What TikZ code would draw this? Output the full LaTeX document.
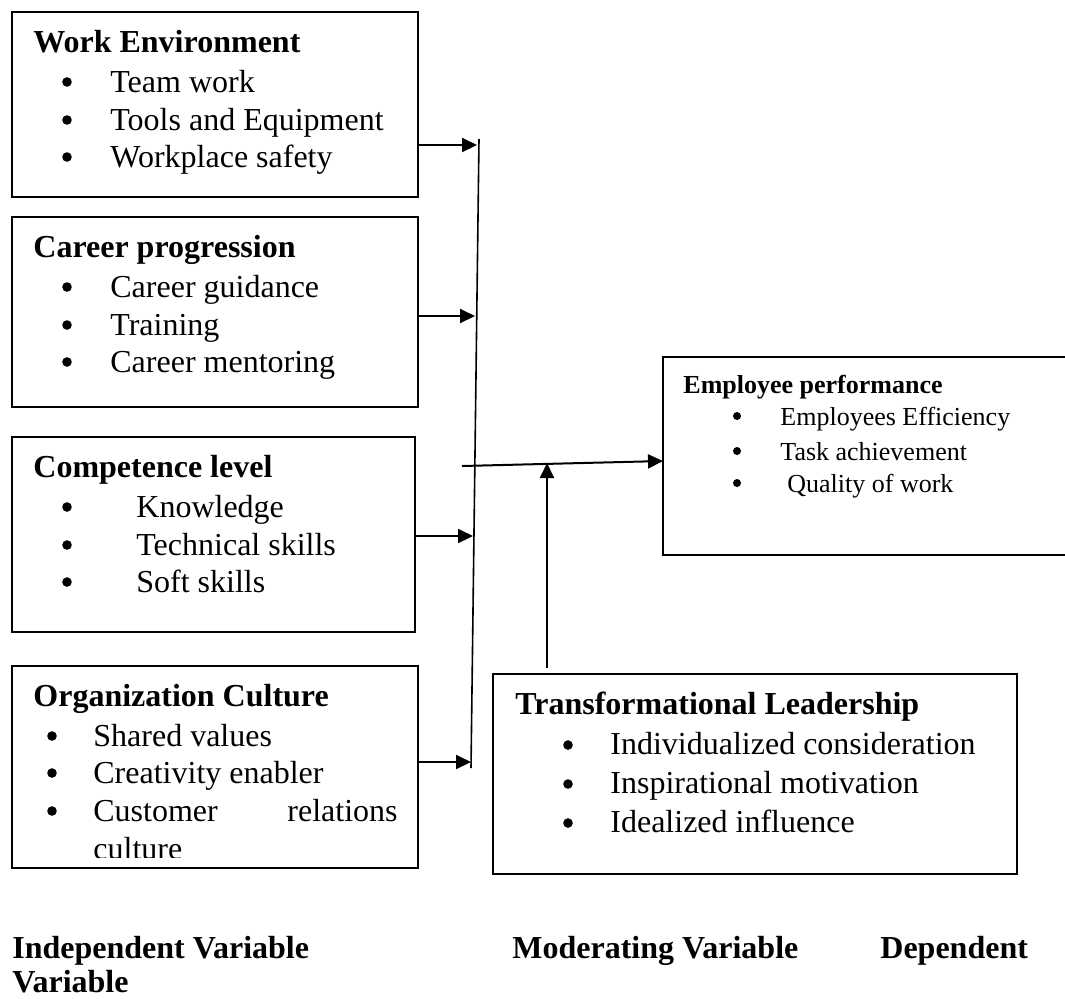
\documentclass[tikz,border=0pt]{standalone}
\usepackage{fontspec}
\setmainfont{Liberation Serif}
\usetikzlibrary{arrows.meta}

\begin{document}
\begin{tikzpicture}[x=0.5pt, y=-0.5pt]

\tikzset{
    box/.style = {
    draw, line width=1pt, anchor=north west,
    inner sep=0pt, outer sep=0pt
    }
}

\tikzstyle{heading}=[anchor=base west, inner sep=0pt, font=\fontsize{16}{19}\selectfont\bfseries]
\tikzstyle{item}=[anchor=base west, inner sep=0pt, font=\fontsize{16}{19}\selectfont]
\tikzstyle{small}=[font=\fontsize{13}{16}\selectfont]
\tikzstyle{smallhead}=[font=\fontsize{13}{16}\selectfont\bfseries]
\tikzstyle{dot}=[circle, fill, inner sep=0pt, minimum size=4.8pt]
\tikzstyle{link}=[line width=1pt, -{Triangle[length=7.5pt, width=7pt]}]

\clip (0,0) rectangle (1065,998);

% independent variables
\node (we) [box, minimum width=203pt, minimum height=92.5pt] at (12,12) {};
\node (we-t) [heading] at (33,52) {Work Environment};
\foreach \y/\txt [count=\k] in {92/Team work, 130/Tools and Equipment, 167/Workplace safety}{
    \node (we-d\k) [dot] at (67,\y-10) {};
    \node (we-i\k) [item] at (110,\y) {\txt};
}

\node (cp) [box, minimum width=203pt, minimum height=95pt] at (12,217) {};
\node (cp-t) [heading] at (33,257) {Career progression};
\foreach \y/\txt [count=\k] in {297/Career guidance, 335/Training, 372/Career mentoring}{
    \node (cp-d\k) [dot] at (67,\y-10) {};
    \node (cp-i\k) [item] at (110,\y) {\txt};
}

\node (cl) [box, minimum width=201.5pt, minimum height=97.5pt] at (12,437) {};
\node (cl-t) [heading] at (33,477) {Competence level};
\foreach \y/\txt [count=\k] in {517/Knowledge, 555/Technical skills, 592/Soft skills}{
    \node (cl-d\k) [dot] at (67,\y-10) {};
    \node (cl-i\k) [item] at (136,\y) {\txt};
}

\node (oc) [box, minimum width=203pt, minimum height=101pt] at (12,666) {};
\node (oc-t) [heading] at (33,706) {Organization Culture};
\foreach \y/\txt [count=\k] in {746/Shared values, 783/Creativity enabler, 821/Customer}{
    \node (oc-d\k) [dot] at (52,\y-10) {};
    \node (oc-i\k) [item] at (93,\y) {\txt};
}
\node (oc-i4) [item, anchor=base east] at (398,821) {relations};
\begin{scope}
    \clip (12,666) rectangle (418,857);
    \node (oc-i5) [item] at (93,859) {culture};
\end{scope}

% moderating variable
\node (tl) [box, minimum width=262pt, minimum height=100pt] at (493,674) {};
\node (tl-t) [heading] at (515,714) {Transformational Leadership};
\foreach \y/\txt [count=\k] in {754/Individualized consideration, 793/Inspirational motivation, 832/Idealized influence}{
    \node (tl-d\k) [dot] at (568,\y-9) {};
    \node (tl-i\k) [item] at (610,\y) {\txt};
}

% dependent variable
\node (ep) [box, minimum width=206pt, minimum height=99pt] at (663,357) {};
\node (ep-t) [heading, smallhead] at (683,393) {Employee performance};
\foreach \y/\x/\txt [count=\k] in {425/780/Employees Efficiency, 460/780/Task achievement, 492/787/Quality of work}{
    \node (ep-d\k) [dot, minimum size=4pt] at (737,\y-9) {};
    \node (ep-i\k) [item, small] at (\x,\y) {\txt};
}

% arrows
\coordinate (bus-top) at (479,139);
\coordinate (bus-bot) at (471,768);
\draw[line width=0.8pt] (bus-top) -- (bus-bot);

\coordinate (in-1) at (477,145);
\coordinate (in-2) at (475,316);
\coordinate (in-3) at (473,536);
\coordinate (in-4) at (471,762);
\draw[link] (we.east |- in-1) -- (in-1);
\draw[link] (cp.east |- in-2) -- (in-2);
\draw[link] (cl.east |- in-3) -- (in-3);
\draw[link] (oc.east |- in-4) -- (in-4);

\coordinate (join) at (462,466);
\draw[link] (join) -- ([yshift=-2.5pt]ep.west);

\coordinate (mod) at (547,463);
\draw[link] ([yshift=3pt]tl.north -| mod) -- (mod);

% captions
\node (lab-iv) [heading] at (12,958) {Independent Variable};
\node (lab-mv) [heading] at (512,958) {Moderating Variable};
\node (lab-dv) [heading] at (880,958) {Dependent};
\node (lab-v) [heading] at (12,992) {Variable};

\end{tikzpicture}
\end{document}
